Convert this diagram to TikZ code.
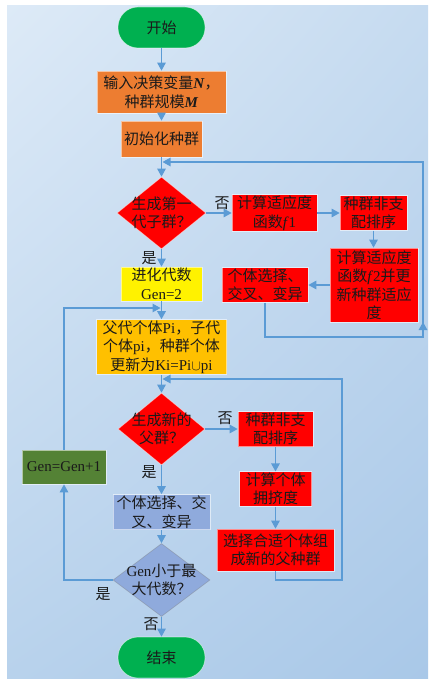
\documentclass[tikz,border=0pt]{standalone}
\usepackage{fontspec}
\setmainfont{Liberation Serif}
\newfontfamily\cjkfont{Noto Sans CJK SC}
\newcommand\zh[1]{{\cjkfont #1}}
\usetikzlibrary{arrows.meta,shapes.geometric,calc,shadings}

\definecolor{bgTL}{HTML}{DDEAF7}
\definecolor{bgTR}{HTML}{C6DBF0}
\definecolor{bgBL}{HTML}{B8D2EC}
\definecolor{bgBR}{HTML}{A9C8E8}
\definecolor{termgreen}{HTML}{00B050}
\definecolor{orng}{HTML}{ED7D31}
\definecolor{gold}{HTML}{FFC000}
\definecolor{steel}{HTML}{8FAADC}
\definecolor{dkgreen}{HTML}{548235}
\definecolor{lineblue}{HTML}{5B9BD5}
\definecolor{txt}{HTML}{1A1A1A}

\begin{document}
\begin{tikzpicture}[x=1pt,y=-1pt,
  font=\fontsize{15}{18.5}\selectfont,
  box/.style={draw=white, draw opacity=0.55, line width=0.7pt, align=center,
    inner sep=1pt, text=txt},
  term/.style={box, fill=termgreen, rounded corners=20pt,
    minimum width=87pt, minimum height=41pt},
  redbox/.style={box, fill=red},
  dec/.style={shape=diamond, draw=white, draw opacity=0.55, line width=0.7pt,
    inner sep=0pt},
  dtxt/.style={align=center, inner sep=0pt, text=txt},
  lbl/.style={inner sep=0pt, text=txt},
  flow/.style={draw=lineblue, line width=1.3pt,
    -{Triangle[length=8pt,width=8.5pt]}},
]
% backdrop
\useasboundingbox (0,0) rectangle (428,679);
\fill[white] (0,0) rectangle (428,679);
\shade[upper left=bgTL, upper right=bgTR, lower left=bgBL, lower right=bgBR]
  (7,6) rectangle (428,679);

% main column
\node[term] (start) at (161.5,27.5) {\zh{开始}};
\node[box, fill=orng, minimum width=129pt, minimum height=42pt] (input) at (161.5,92)
  {\zh{输入决策变量}\textbf{\textit{N}}\zh{，}\\\zh{种群规模}\textbf{\textit{M}}};
\node[box, fill=orng, minimum width=81pt, minimum height=36pt] (init) at (161.5,139)
  {\zh{初始化种群}};
\node[dec, fill=red, minimum width=89pt, minimum height=72pt] (d1) at (161.5,213) {};
\node[dtxt] (d1t) at (d1) {\zh{生成第一}\\\zh{代子群？}};
\node[box, fill=yellow, minimum width=81pt, minimum height=34pt] (g2) at (161.5,284)
  {\zh{进化代数}\\Gen=2};
\node[box, fill=gold, minimum width=130pt, minimum height=54pt] (upd) at (161.5,347)
  {\zh{父代个体}Pi\zh{，子代}\\\zh{个体}pi\zh{，种群个体}\\\zh{更新为}Ki=Pi$\cup$pi};
\node[dec, fill=red, minimum width=87pt, minimum height=72pt] (d2) at (161.5,429) {};
\node[dtxt] (d2t) at (d2) {\zh{生成新的}\\\zh{父群？}};
\node[box, fill=steel, minimum width=97pt, minimum height=35pt] (sel2) at (161.5,512)
  {\zh{个体选择、交}\\\zh{叉、变异}};
\node[dec, fill=steel, draw=gray, draw opacity=0.4, minimum width=97pt, minimum height=73pt] (d3) at (161.5,580) {};
\node[dtxt] (d3t) at (d3) {Gen\zh{小于最}\\\zh{大代数？}};
\node[term] (end) at (161.5,657.5) {\zh{结束}};

% first-generation branch
\node[redbox, minimum width=85pt, minimum height=34pt] (f1) at (274.5,213)
  {\zh{计算适应度}\\\zh{函数}\textit{f}1};
\node[redbox, minimum width=67pt, minimum height=34pt] (sort1) at (373.5,213)
  {\zh{种群非支}\\\zh{配排序}};
\node[redbox, minimum width=88pt, minimum height=74pt] (f2) at (374,285)
  {\zh{计算适应度}\\\zh{函数}\textit{f}2\zh{并更}\\\zh{新种群适应}\\\zh{度}};
\node[redbox, minimum width=86pt, minimum height=34pt] (sel1) at (265,285)
  {\zh{个体选择、}\\\zh{交叉、变异}};

% new-parent branch
\node[redbox, minimum width=75pt, minimum height=35pt] (sort2) at (275.5,429)
  {\zh{种群非支}\\\zh{配排序}};
\node[redbox, minimum width=72pt, minimum height=34pt] (crowd) at (275.5,489)
  {\zh{计算个体}\\\zh{拥挤度}};
\node[redbox, minimum width=117pt, minimum height=42pt] (selnew) at (275.5,550)
  {\zh{选择合适个体组}\\\zh{成新的父种群}};

% generation counter
\node[box, fill=dkgreen, minimum width=84pt, minimum height=34pt] (gen) at (64,467)
  {Gen=Gen+1};

% branch labels
\node[lbl] (no1) at (222,203) {\zh{否}};
\node[lbl] (yes1) at (149,258) {\zh{是}};
\node[lbl] (no2) at (225,418) {\zh{否}};
\node[lbl] (yes2) at (149,472) {\zh{是}};
\node[lbl] (yes3) at (103,594) {\zh{是}};
\node[lbl] (no3) at (151,624) {\zh{否}};

% loop junctions
\coordinate (m1) at (162.5,162);
\coordinate (r1) at (423,337);
\coordinate (r1up) at (423,322);
\coordinate (m2) at (160.5,308);
\coordinate (r3) at (342,580);
\coordinate (m3) at (162.5,379);

% connectors
\draw[flow] (start) -- (input);
\draw[flow] (input) -- (init);
\draw[flow] (init) -- (d1);
\draw[flow] (d1) -- (g2);
\draw[flow] (g2) -- (upd);
\draw[flow] (upd) -- (d2);
\draw[flow] (d2) -- (sel2);
\draw[flow] (sel2) -- (d3);
\draw[flow] (d3) -- (end);

\draw[flow] (d1) -- (f1);
\draw[flow] (f1) -- (sort1);
\draw[flow] (sort1.south) -- (sort1.south |- f2.north);
\draw[flow] (f2) -- (sel1);
\draw[flow] (sel1.south) |- (r1) -- (r1up);
\draw[flow] (r1) |- (m1);

\draw[flow] (d2) -- (sort2);
\draw[flow] (sort2) -- (crowd);
\draw[flow] (crowd) -- (selnew);
\draw[flow] (selnew.south) |- (r3) |- (m3);

\draw[flow] (d3.west) -| (gen.south);
\draw[flow] (gen.north) |- (m2);
\end{tikzpicture}
\end{document}
